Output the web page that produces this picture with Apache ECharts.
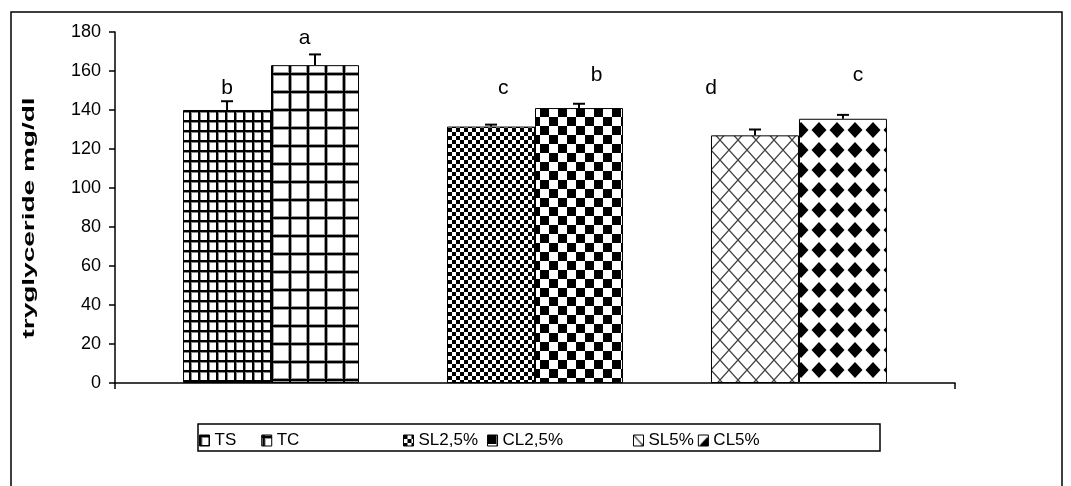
<!DOCTYPE html>
<html>
<head>
<meta charset="utf-8">
<script src="https://cdn.jsdelivr.net/npm/echarts@6/dist/echarts.min.js"></script>
<style>
  html, body { margin: 0; padding: 0; background: #fff; }
  #chart { width: 1071px; height: 486px; }
</style>
</head>
<body>
<div id="chart"></div>
<script>
// one category, treatments drawn as side-by-side series (Excel style)
const category = ['triglyceride'];
const seriesNames = ['TS', 'TC', 'SL2,5%', 'CL2,5%', 'SL5%', 'CL5%'];
const means = [140, 163, 131.5, 141, 127, 135.5];
const errors = [4.5, 5.5, 1, 2.2, 3, 2];
const letters = ['b', 'a', 'c', 'b', 'd', 'c'];
const letterAt = [151, 177, 151, 158, 151, 158];
const yTicks = { min: 0, max: 180, step: 20 };
const yTitle = 'tryglyceride mg/dl';

// layout: slot of each treatment among 8 bar slots (2 blank spacer series)
const slots = [0, 1, 3, 4, 6, 7];
const SLOT_COUNT = 8;
const CAT_GAP = 0.162;
const letterShift = [0, -0.12, 0.14, 0.2, -0.5, 0.17];
const FONT = '"Liberation Sans", Arial, sans-serif';

function makePattern(w, h, draw) {
  const c = document.createElement('canvas');
  c.width = w; c.height = h;
  const ctx = c.getContext('2d');
  ctx.fillStyle = '#fff';
  ctx.fillRect(0, 0, w, h);
  draw(ctx, w, h);
  return { image: c, repeat: 'repeat' };
}

const patterns = [
  // TS: fine grid
  makePattern(9, 10, (ctx) => {
    ctx.fillStyle = '#888'; ctx.fillRect(0, 0, 3, 10); ctx.fillRect(0, 0, 9, 3);
    ctx.fillStyle = '#000'; ctx.fillRect(0, 0, 2, 10); ctx.fillRect(0, 0, 9, 2);
  }),
  // TC: large grid
  makePattern(18, 18, (ctx) => {
    ctx.fillStyle = '#999'; ctx.fillRect(0, 0, 4, 18); ctx.fillRect(0, 0, 18, 4);
    ctx.fillStyle = '#000'; ctx.fillRect(1, 0, 2, 18); ctx.fillRect(0, 1, 18, 2);
  }),
  // SL2,5%: small checkerboard
  makePattern(8, 8, (ctx) => {
    ctx.fillStyle = '#000'; ctx.fillRect(0, 0, 4, 4); ctx.fillRect(4, 4, 4, 4);
  }),
  // CL2,5%: large checkerboard
  makePattern(18, 18, (ctx) => {
    ctx.fillStyle = '#000'; ctx.fillRect(0, 0, 9, 9); ctx.fillRect(9, 9, 9, 9);
  }),
  // SL5%: diagonal crosshatch
  makePattern(18, 20, (ctx, w, h) => {
    ctx.strokeStyle = '#444'; ctx.lineWidth = 1.3;
    ctx.beginPath();
    ctx.moveTo(0, 0); ctx.lineTo(w, h);
    ctx.moveTo(w, 0); ctx.lineTo(0, h);
    ctx.stroke();
  }),
  // CL5%: black diamonds
  makePattern(18, 20, (ctx) => {
    ctx.fillStyle = '#000';
    ctx.beginPath();
    ctx.moveTo(9, 2); ctx.lineTo(16.5, 10); ctx.lineTo(9, 18); ctx.lineTo(1.5, 10);
    ctx.closePath(); ctx.fill();
  })
];

const barSeries = [];
for (let s = 0; s < SLOT_COUNT; s++) {
  const k = slots.indexOf(s);
  if (k < 0) {
    barSeries.push({ type: 'bar', name: '_gap' + s, data: ['-'], barGap: 0, barCategoryGap: (CAT_GAP * 100) + '%' });
    continue;
  }
  barSeries.push({
    type: 'bar',
    name: seriesNames[k],
    data: [means[k]],
    barGap: 0,
    barCategoryGap: (CAT_GAP * 100) + '%',
    itemStyle: { color: patterns[k], borderColor: '#000', borderWidth: 1 },
    emphasis: { disabled: true }
  });
}

const errorSeries = {
  type: 'custom',
  name: '_err',
  z: 5,
  data: means.map((m, k) => [0, m, errors[k], k]),
  renderItem(params, api) {
    const k = api.value(3);
    const band = api.size([1, 0])[0];
    const inner = band * (1 - CAT_GAP);
    const barW = inner / SLOT_COUNT;
    const cx = api.coord([0, 0])[0] - inner / 2 + barW * (slots[k] + 0.5);
    const yMid = api.coord([0, api.value(1)])[1];
    const yTop = api.coord([0, api.value(1) + api.value(2)])[1];
    const yLetter = api.coord([0, letterAt[k]])[1];
    const ls = { stroke: '#000', lineWidth: 2 };
    return {
      type: 'group',
      children: [
        { type: 'line', shape: { x1: cx, y1: yMid, x2: cx, y2: yTop }, style: ls },
        { type: 'line', shape: { x1: cx - 6, y1: yTop, x2: cx + 6, y2: yTop }, style: ls },
        {
          type: 'text',
          style: {
            text: letters[k], x: cx + letterShift[k] * barW, y: yLetter,
            align: 'center', verticalAlign: 'middle',
            font: '21px ' + FONT, fill: '#000'
          }
        }
      ]
    };
  }
};

function legendBlock(left, names, gap) {
  return {
    left: left, top: 432, padding: 0, itemGap: gap,
    itemWidth: 10, itemHeight: 11, icon: 'rect',
    data: names,
    selectedMode: false,
    itemStyle: { borderColor: '#000', borderWidth: 1 },
    textStyle: { fontFamily: FONT, fontSize: 17, color: '#000' }
  };
}

const chart = echarts.init(document.getElementById('chart'), null, { renderer: 'canvas' });
chart.setOption({
  animation: false,
  backgroundColor: '#fff',
  textStyle: { fontFamily: FONT },
  grid: { left: 115, right: 116, top: 32, bottom: 103 },
  legend: [
    legendBlock(199, seriesNames.slice(0, 2), 25),
    legendBlock(403, seriesNames.slice(2, 4), 9),
    legendBlock(633, seriesNames.slice(4, 6), 4)
  ],
  graphic: [
    { type: 'rect', shape: { x: 11, y: 12, width: 1051, height: 490 }, style: { fill: null, stroke: '#000', lineWidth: 1.5 }, silent: true },
    { type: 'rect', shape: { x: 198, y: 424, width: 682, height: 27 }, style: { fill: null, stroke: '#000', lineWidth: 1.5 }, silent: true },
    // y-axis title, stretched along its length like the original
    {
      type: 'text', x: 30, y: 218, rotation: Math.PI / 2, scaleX: 1.75, scaleY: 1,
      style: { text: yTitle, font: 'bold 16px ' + FONT, fill: '#000', align: 'center', verticalAlign: 'middle' },
      silent: true
    }
  ],
  xAxis: {
    type: 'category',
    data: category,
    axisLine: { lineStyle: { color: '#000', width: 1.5 } },
    axisTick: { show: true, length: 6, lineStyle: { color: '#000', width: 1.5 } },
    axisLabel: { show: false },
    splitLine: { show: false }
  },
  yAxis: {
    type: 'value',
    min: yTicks.min, max: yTicks.max, interval: yTicks.step,
    axisLine: { show: true, lineStyle: { color: '#000', width: 1.5 } },
    axisTick: { show: true, length: 6, lineStyle: { color: '#000', width: 1.5 } },
    axisLabel: { fontFamily: FONT, fontSize: 18, color: '#000', margin: 14 },
    splitLine: { show: false }
  },
  series: barSeries.concat([errorSeries])
});
</script>
</body>
</html>
